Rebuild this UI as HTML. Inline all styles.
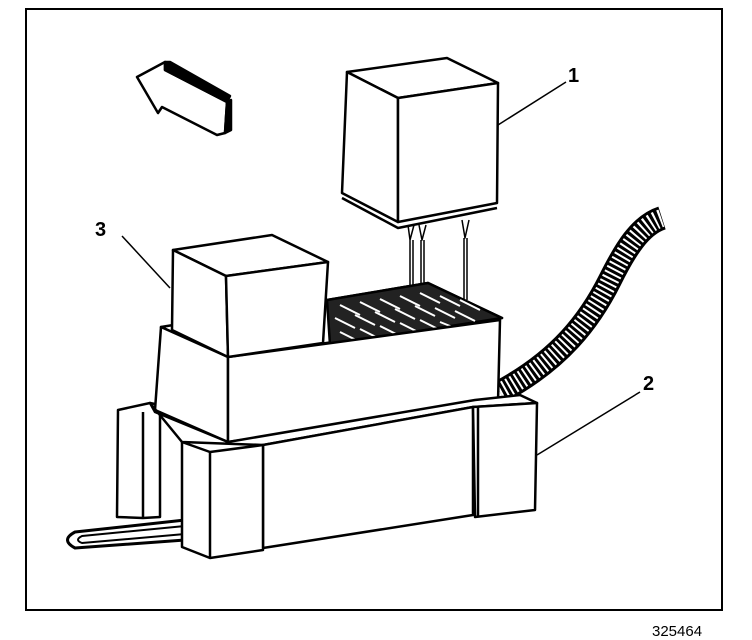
<!DOCTYPE html>
<html><head><style>
html,body{margin:0;padding:0;background:#fff;width:752px;height:640px;overflow:hidden}
svg{display:block}
text{font-family:"Liberation Sans",sans-serif;fill:#000}
</style></head><body>
<svg width="752" height="640" viewBox="0 0 752 640" xmlns="http://www.w3.org/2000/svg">
<rect x="26" y="9" width="696" height="601" fill="none" stroke="#000" stroke-width="2"/>
<text x="652" y="636" font-size="15">325464</text>
<g fill="#fff" stroke="#000" stroke-width="2.5" stroke-linejoin="round">
<!-- arrow -->
<polygon points="137,77 165,62 165,70 227,102 225,133 217,135 162,107 158,113"/>
<polygon points="165,62 170,62 230,96 227,102 165,70" fill="#000"/>
<polygon points="227,102 231,100 231,130 225,133" fill="#000"/>
<!-- relay 1 -->
<polygon points="347,72 447,58 498,83 398,98"/>
<polygon points="347,72 398,98 398,222 342,193"/>
<polygon points="398,98 498,83 497,203 398,222"/>
<polyline points="342,198 398,228 497,208" fill="none"/>
<!-- pins -->
<g stroke-width="1.5" fill="none">
<path d="M408,225 L410,240 L414,225 M410,240 L410,300 M413,240 L413,300"/>
<path d="M419,225 L422,240 L426,225 M421,240 L421,300 M424,240 L424,300"/>
<path d="M462,220 L465,238 L469,220 M464,238 L464,300 M467,238 L467,300"/>
</g>
<!-- hose -->
<path d="M500,392 C560,360 590,320 610,280 C625,250 640,225 662,218" fill="none" stroke="#000" stroke-width="24"/>
<path d="M500,392 C560,360 590,320 610,280 C625,250 640,225 662,218" fill="none" stroke="#fff" stroke-width="18" stroke-dasharray="2 3"/>
<!-- tab -->
<path d="M185,520 L75,532 Q60,540 75,548 L185,540" fill="#fff" stroke-width="3"/>
<path d="M185,526 L82,536 Q74,540 82,543 L185,534" fill="none" stroke-width="2"/>
<!-- left back piece -->
<polygon points="118,410 150,403 160,405 160,517 143,518 117,517"/>
<line x1="143" y1="412" x2="143" y2="518"/>
<!-- upper block -->
<polygon points="161,327 327,300 428,283 502,318 228,357"/>
<rect x="327" y="288" width="0" height="0"/>
<polygon points="327,300 428,283 502,318 330,345" fill="#222"/>
<g stroke="#fff" stroke-width="2" fill="none">
<path d="M340,305 l20,10 M360,302 l20,10 M380,299 l20,10 M400,296 l20,10 M420,293 l20,10 M440,296 l20,10 M460,300 l20,10 M335,318 l20,10 M355,315 l20,10 M375,312 l20,10 M395,309 l20,10 M415,306 l20,10 M435,308 l20,10 M455,311 l20,10 M340,332 l16,8 M360,329 l20,10 M380,326 l20,10 M400,323 l20,10 M420,320 l20,10 M440,322 l20,8"/>
</g>
<polygon points="161,327 228,357 228,442 155,410"/>
<polygon points="228,357 500,320 498,402 228,442"/>
<!-- small cube 3 -->
<polygon points="173,250 272,235 328,262 226,276"/>
<polygon points="173,250 226,276 228,357 172,330"/>
<polygon points="226,276 328,262 323,343 228,357"/>
<!-- base -->
<polygon points="150,403 182,442 263,445 473,407 537,403 520,395 475,400 228,442 155,412"/>
<polygon points="263,445 473,407 473,515 263,548"/>
<polygon points="473,407 537,403 535,510 475,517"/>
<line x1="478" y1="407" x2="478" y2="517"/>
<polygon points="182,442 210,452 263,445 263,550 210,558 182,547"/>
<line x1="210" y1="452" x2="210" y2="558"/>
</g>
<!-- leaders -->
<g stroke="#000" stroke-width="1.5">
<line x1="498" y1="125" x2="566" y2="82"/>
<line x1="122" y1="236" x2="170" y2="288"/>
<line x1="537" y1="455" x2="640" y2="392"/>
</g>
<text x="568" y="82" font-size="20" font-weight="bold">1</text>
<text x="95" y="236" font-size="20" font-weight="bold">3</text>
<text x="643" y="390" font-size="20" font-weight="bold">2</text>
</svg>
</body></html>
